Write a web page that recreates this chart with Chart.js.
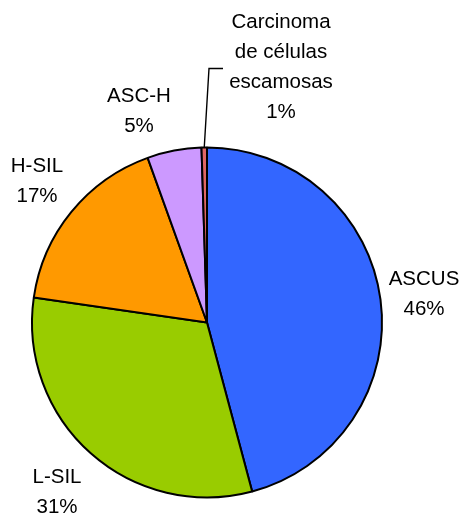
<!DOCTYPE html>
<html>
<head>
<meta charset="utf-8">
<script src="https://cdn.jsdelivr.net/npm/chart.js@4"></script>
<style>
  html, body { margin: 0; padding: 0; background: #fff; }
  #wrap { width: 465px; height: 517px; }
</style>
</head>
<body>
<div id="wrap"><canvas id="chart" width="465" height="517"></canvas></div>
<script>
'use strict';

const categories = ['ASCUS', 'L-SIL', 'H-SIL', 'ASC-H', 'Carcinoma de células escamosas'];
const labelLines = [['ASCUS'], ['L-SIL'], ['H-SIL'], ['ASC-H'], ['Carcinoma', 'de células', 'escamosas']];
const shares = [45.8, 31.4, 17.2, 5.0, 0.5];
const sliceColors = ['#3366FF', '#99CC00', '#FF9900', '#CC99FF', '#E06666'];

// label block centres, relative to the pie centre
const labelOffsets = [[217, -28], [-150, 170], [-170, -141], [-68, -211], [74, -255]];

const pieLabels = {
  id: 'pieLabels',
  afterDatasetsDraw(chart) {
    const ctx = chart.ctx;
    const arcs = chart.getDatasetMeta(0).data;
    const total = shares.reduce((a, b) => a + b, 0);
    ctx.save();
    ctx.fillStyle = '#000';
    ctx.font = '20.5px "Liberation Sans", Arial, sans-serif';
    ctx.textAlign = 'center';
    ctx.textBaseline = 'middle';
    arcs.forEach((arc, i) => {
      const cx = arc.x, cy = arc.y;
      const lines = labelLines[i].concat([Math.round(shares[i] / total * 100) + '%']);
      const bx = cx + labelOffsets[i][0];
      const by = cy + labelOffsets[i][1];
      const lh = 30;
      lines.forEach((t, k) => {
        ctx.fillText(t, bx, by + (k - (lines.length - 1) / 2) * lh);
      });
      if (i === 4) {
        // leader line for the tiny slice
        const mid = (arc.startAngle + arc.endAngle) / 2;
        const r = arc.outerRadius;
        ctx.strokeStyle = '#000';
        ctx.lineWidth = 1.4;
        ctx.beginPath();
        ctx.moveTo(cx + Math.cos(mid) * r, cy + Math.sin(mid) * r);
        ctx.lineTo(cx + 2, cy - 254);
        ctx.lineTo(cx + 16, cy - 254);
        ctx.stroke();
      }
    });
    ctx.restore();
  }
};

function renderChart() {
  const ctx = document.getElementById('chart').getContext('2d');

  const chartData = {
    labels: categories,
    datasets: [{
      data: shares,
      backgroundColor: sliceColors,
      borderColor: '#000',
      borderWidth: 2,
      hoverOffset: 0
    }]
  };

  const chartOptions = {
    responsive: false,
    animation: false,
    layout: { padding: { left: 31, top: 146, right: 82, bottom: 18 } },
    plugins: {
      legend: { display: false },
      tooltip: { enabled: false }
    }
  };

  new Chart(ctx, {
    type: 'pie',
    data: chartData,
    options: chartOptions,
    plugins: [pieLabels]
  });
}

renderChart();
</script>
</body>
</html>
